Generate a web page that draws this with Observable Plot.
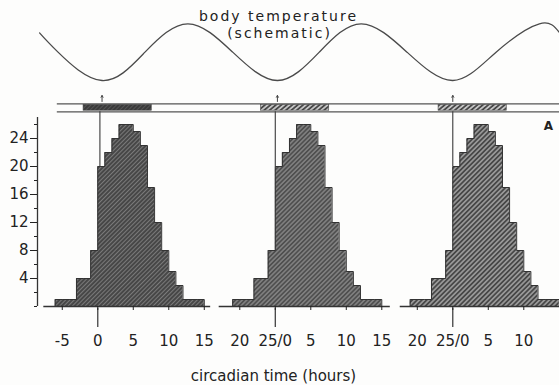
<!DOCTYPE html>
<html><head><meta charset="utf-8">
<script src="https://cdn.jsdelivr.net/npm/d3@7"></script>
<script src="https://cdn.jsdelivr.net/npm/@observablehq/plot@0.6"></script>
<style>
html,body{margin:0;padding:0;background:#fff;}
#chart{width:559px;height:385px;overflow:hidden;background:#fdfdfc;}
#chart svg{display:block;}
</style></head><body><div id="chart"></div>
<script>
// ---------- data ----------
const binStart = [-6,-5,-4,-3,-2,-1,0,1,2,3,4,5,6,7,8,9,10,11,12,13,14]; // hours rel. to CT0
const binCount = [1,1,1,4,4,8,20,22,24,26,26,25,23,17,12,8,5,3,1,1,1];
const cycleOffsets = [0, 25, 50];               // each plotted cycle starts at 0 of a 25 h day
const onsetLineHour = [0.3, 25, 50];
const xTickValues = [-5,0,5,10,15,20,25,30,35,40,45,50,55,60];
const xTickLabels = ["-5","0","5","10","15","20","25/0","5","10","15","20","25/0","5","10"];
const yTickValues = [4,8,12,16,20,24];
const yMinorTicks = [0,2,6,10,14,18,22,26];
const waveHour = [-8.2,-5.6,0.6,6.65,12.7,19,25.3,31.2,37.1,43.55,50,56.1,62.2,65];
const waveTemp = [0.68,0,-1,0,1,0,-1,0,1,0,-1,0,1,0.7];
const tempMinHour = [0.6, 25.3, 50];
const restStart = -2, restEnd = 7.6;           // hatched part of the bar, rel. to each cycle
const axisSegments = [[-7.6,15.9],[17.1,41.2],[42.6,65.03]];
const bandStartHour = -5.7;

// ---------- layout ----------
const W = 559, TOP_H = 92, BOT_H = 293, BASE = 214, PX = 7;
const xDomain = [-8.49, 65.03];
const toCount = py => (BASE - (py - TOP_H)) / PX;   // page pixel -> count units
const bandTop = toCount(103.3), bandBot = toCount(111.3);
const segTop = toCount(104.5), segBot = toCount(110.2);
const FONT = "DejaVu Sans, sans-serif";

const chart = document.getElementById("chart");

// ---------- top: body temperature wave ----------
const wave = waveHour.map((h, i) => ({h, t: waveTemp[i]}));
const topPlot = Plot.plot({
  width: W, height: TOP_H, marginLeft: 37, marginRight: 0, marginTop: 0, marginBottom: 0,
  x: {domain: xDomain, axis: null},
  y: {domain: [-1, 1], range: [80, 23.3], axis: null},
  style: {background: "transparent", fontFamily: FONT, color: "#222", overflow: "visible"},
  marks: [
    Plot.line(wave, {x: "h", y: "t", curve: "natural", stroke: "#4a4a4a", strokeWidth: 1.3}),
    Plot.text(["body temperature"], {frameAnchor: "top-left", dx: 278 - 37, dy: 16.5, text: d => d,
      textAnchor: "middle", lineAnchor: "middle", fontSize: 14, fill: "#222"}),
    Plot.text(["(schematic)"], {frameAnchor: "top-left", dx: 279 - 37, dy: 33.5, text: d => d,
      textAnchor: "middle", lineAnchor: "middle", fontSize: 14, fill: "#222"})
  ]
});
topPlot.querySelectorAll("text").forEach(t => t.style.letterSpacing = "2px");
chart.appendChild(topPlot);

// ---------- bottom: histograms ----------
const bins = off => binStart.map((s, i) => ({x1: off + s, x2: off + s + 1, count: binCount[i]}));
const outline = off => {
  const b = bins(off), last = b[b.length - 1];
  return [{x: b[0].x1, y: 0}, ...b.map(d => ({x: d.x1, y: d.count})), {x: last.x2, y: last.count}, {x: last.x2, y: 0}];
};
const fills = ["url(#hatchA)", "url(#hatchB)", "url(#hatchC)"];
const bandFills = ["url(#bandDark)", "url(#bandHatch)", "url(#bandHatch)"];
const labelOf = new Map(xTickValues.map((v, i) => [v, xTickLabels[i]]));

const marks = [
  Plot.ruleY([bandTop, bandBot], {x1: bandStartHour, x2: xDomain[1], stroke: "#555", strokeWidth: 1.3}),
  Plot.arrow(tempMinHour, {x1: d => d, x2: d => d, y1: toCount(101), y2: toCount(95),
    headLength: 3, stroke: "#444", strokeWidth: 1})
];
cycleOffsets.forEach((off, k) => {
  marks.push(Plot.rect([off], {x1: d => d + restStart, x2: d => d + restEnd, y1: segBot, y2: segTop,
    fill: bandFills[k], stroke: "#444", strokeWidth: 0.6}));
  marks.push(Plot.areaY(outline(off), {x: "x", y: "y", curve: "step-after", fill: fills[k]}));
  marks.push(Plot.line(outline(off), {x: "x", y: "y", curve: "step-after", stroke: "#333", strokeWidth: 1}));
});
marks.push(
  Plot.ruleX(onsetLineHour, {y1: 20, y2: bandBot, stroke: "#3a3a3a", strokeWidth: 1.1}),
  Plot.ruleY(axisSegments, {x1: d => d[0], x2: d => d[1], y: () => 0, stroke: "#333", strokeWidth: 1.3}),
  Plot.ruleX(cycleOffsets, {y1: -0.25, y2: -3.0, stroke: "#333", strokeWidth: 1.2}),
  Plot.ruleX([xDomain[0]], {y1: 0, y2: 27, stroke: "#333", strokeWidth: 1.3}),
  Plot.axisY(yTickValues, {anchor: "left", tickSize: 7, tickPadding: 2, fontSize: 15, label: null}),
  Plot.axisY(yMinorTicks, {anchor: "left", tickSize: 3, tickFormat: () => "", label: null}),
  Plot.axisX(xTickValues, {anchor: "bottom", tickSize: 4, tickPadding: 25, fontSize: 15,
    tickFormat: d => labelOf.get(d), label: null}),
  Plot.text(["circadian time (hours)"], {frameAnchor: "bottom-left", dx: 273 - 37, dy: 70, text: d => d,
    textAnchor: "middle", lineAnchor: "middle", fontSize: 15, fill: "#222"}),
  Plot.text(["A"], {frameAnchor: "top-right", dx: -11, dy: 34, text: d => d,
    textAnchor: "middle", lineAnchor: "middle", fontSize: 12, fontWeight: "bold", fill: "#222"})
);

const bottomPlot = Plot.plot({
  width: W, height: BOT_H, marginLeft: 37, marginRight: 0, marginTop: 0, marginBottom: BOT_H - BASE,
  x: {domain: xDomain, label: null},
  y: {domain: [0, BASE / PX], label: null},
  style: {background: "transparent", fontFamily: FONT, fontSize: "15px", color: "#222", overflow: "visible"},
  marks
});

const ns = "http://www.w3.org/2000/svg";
const defs = document.createElementNS(ns, "defs");
defs.innerHTML = `
<pattern id="hatchA" patternUnits="userSpaceOnUse" width="3" height="3" patternTransform="rotate(45)">
  <rect width="3" height="3" fill="#474747"/><line x1="1.5" y1="0" x2="1.5" y2="3" stroke="#7a7a7a" stroke-width="1"/>
</pattern>
<pattern id="hatchB" patternUnits="userSpaceOnUse" width="3.2" height="3.2" patternTransform="rotate(45)">
  <rect width="3.2" height="3.2" fill="#4f4f4f"/><line x1="1.6" y1="0" x2="1.6" y2="3.2" stroke="#9c9c9c" stroke-width="1"/>
</pattern>
<pattern id="hatchC" patternUnits="userSpaceOnUse" width="3.4" height="3.4" patternTransform="rotate(45)">
  <rect width="3.4" height="3.4" fill="#474747"/><line x1="1.7" y1="0" x2="1.7" y2="3.4" stroke="#b9b9b9" stroke-width="1.2"/>
</pattern>
<pattern id="bandDark" patternUnits="userSpaceOnUse" width="3" height="3" patternTransform="rotate(45)">
  <rect width="3" height="3" fill="#3a3a3a"/><line x1="1.5" y1="0" x2="1.5" y2="3" stroke="#555" stroke-width="1"/>
</pattern>
<pattern id="bandHatch" patternUnits="userSpaceOnUse" width="3.5" height="3.5" patternTransform="rotate(50)">
  <rect width="3.5" height="3.5" fill="#c4c4c4"/><line x1="1.75" y1="0" x2="1.75" y2="3.5" stroke="#333" stroke-width="1.5"/>
</pattern>`;
bottomPlot.insertBefore(defs, bottomPlot.firstChild);
chart.appendChild(bottomPlot);
</script></body></html>
